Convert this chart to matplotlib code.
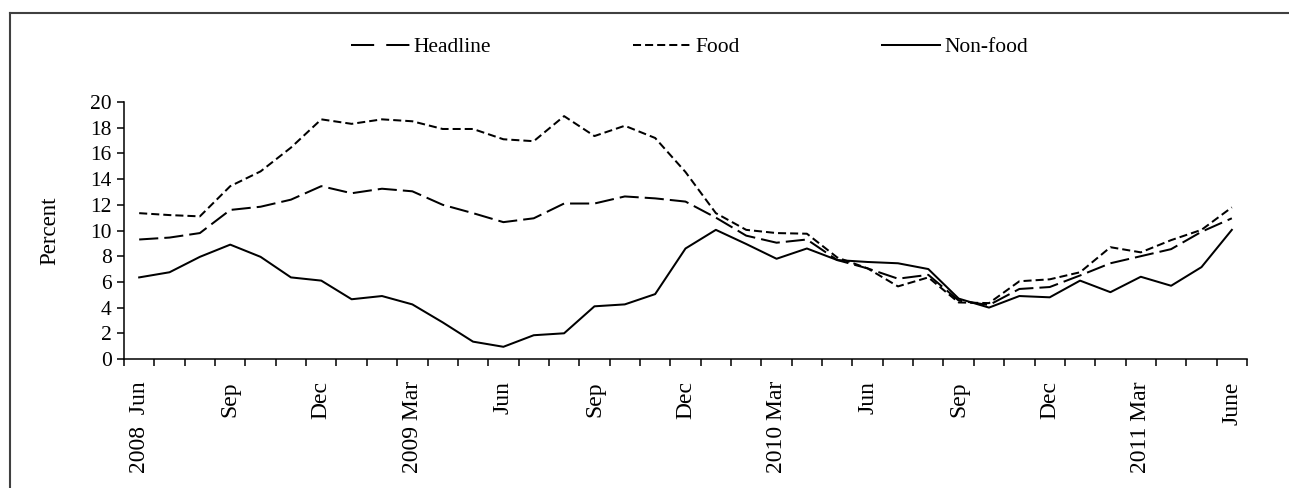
import matplotlib
matplotlib.use("Agg")
import matplotlib.pyplot as plt
from matplotlib.lines import Line2D

plt.rcParams['font.family'] = ['Liberation Serif', 'DejaVu Serif']

tick_labels = ["2008  Jun", "Sep", "Dec", "2009 Mar", "Jun", "Sep", "Dec",
               "2010 Mar", "Jun", "Sep", "Dec", "2011 Mar", "June"]

headline = [9.3, 9.45, 9.8, 11.6, 11.85, 12.4, 13.45, 12.9, 13.25, 13.05, 12.0,
            11.35, 10.65, 10.95, 12.1, 12.1, 12.65, 12.5, 12.25, 11.0, 9.6, 9.05,
            9.3, 7.7, 7.05, 6.25, 6.55, 4.55, 4.2, 5.45, 5.6, 6.5, 7.45, 8.0,
            8.55, 9.9, 10.95]

food = [11.35, 11.2, 11.1, 13.45, 14.6, 16.45, 18.65, 18.3, 18.65, 18.5, 17.9,
        17.9, 17.1, 16.95, 18.9, 17.35, 18.15, 17.2, 14.55, 11.35, 10.05, 9.8,
        9.75, 7.9, 7.05, 5.65, 6.35, 4.4, 4.35, 6.05, 6.2, 6.75, 8.7, 8.3,
        9.25, 10.05, 11.8]

nonfood = [6.35, 6.75, 7.95, 8.9, 7.95, 6.35, 6.1, 4.65, 4.9, 4.25, 2.85, 1.35,
           0.95, 1.85, 2.0, 4.1, 4.25, 5.05, 8.6, 10.05, 8.95, 7.8, 8.6, 7.7,
           7.55, 7.45, 7.0, 4.7, 4.0, 4.9, 4.8, 6.1, 5.2, 6.4, 5.7, 7.15, 10.05]

W, H = 1289, 488
fig = plt.figure(figsize=(W / 100, H / 100), dpi=100)
ax_w = 1247 - 124
ax = fig.add_axes([124 / W, 1 - 359 / H, ax_w / W, (359 - 102) / H])

n = len(headline)
x = list(range(n))
lw = 1.45
ax.plot(x, headline, color='black', lw=lw, dashes=(9.5, 3.0), label='Headline')
ax.plot(x, food, color='black', lw=lw, dashes=(4.0, 2.0), label='Food')
ax.plot(x, nonfood, color='black', lw=lw, label='Non-food')

ax.set_xlim(-0.5, n - 0.5)
ax.set_ylim(0, 20)
ax.set_yticks(range(0, 21, 2))
ax.tick_params(axis='y', labelsize=15.5, length=5, width=1.1, direction='out', pad=4)

major = list(range(0, n, 3))
ax.set_xticks(major)
ax.set_xticklabels(tick_labels, rotation=90, fontsize=17, va='top', ha='center')
ax.set_xticks([i - 0.5 for i in range(n + 1)], minor=True)
ax.tick_params(axis='x', which='major', length=0, pad=16)
ax.tick_params(axis='x', which='minor', length=5, width=1.1, direction='out')

for s in ['top', 'right']:
    ax.spines[s].set_visible(False)
for s in ['left', 'bottom']:
    ax.spines[s].set_linewidth(1.1)

ax.set_ylabel('Percent', fontsize=16.5)
ax.yaxis.set_label_coords((60 - 124) / ax_w, 0.5)

handles = [
    Line2D([], [], color='black', lw=lw, dashes=(11.5, 6.0)),
    Line2D([], [], color='black', lw=lw, dashes=(4.0, 2.0)),
    Line2D([], [], color='black', lw=lw),
]
fig.legend(handles, ['Headline', 'Food', 'Non-food'], loc='center',
           bbox_to_anchor=(690 / W, 1 - 47 / H), ncol=3, frameon=False,
           fontsize=15.5, handlelength=2.7, handletextpad=0.2,
           columnspacing=6.6)

bc = '#404040'
fig.add_artist(Line2D([9.5 / W, 1.0], [1 - 13 / H, 1 - 13 / H], transform=fig.transFigure,
                      color=bc, lw=1.5))
fig.add_artist(Line2D([9.5 / W, 9.5 / W], [0, 1 - 13 / H], transform=fig.transFigure,
                      color=bc, lw=1.5))

fig.savefig('out.png', dpi=100)
